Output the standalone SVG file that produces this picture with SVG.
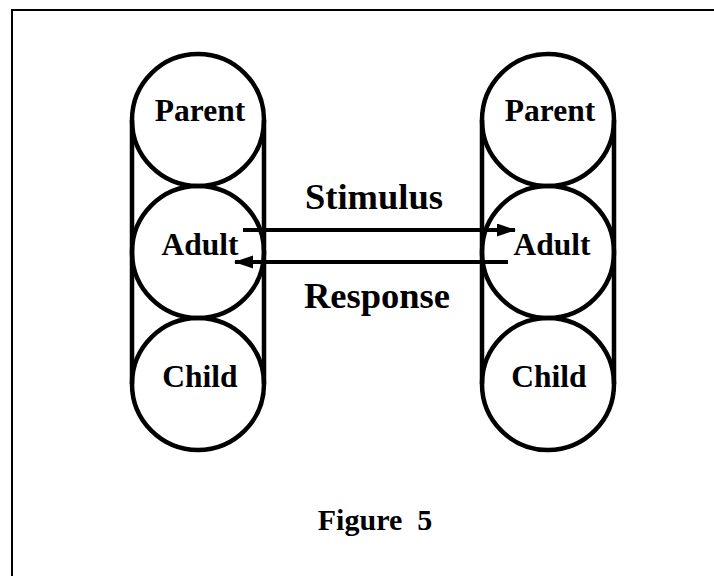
<svg xmlns="http://www.w3.org/2000/svg" width="714" height="576" viewBox="0 0 714 576">
<style>
.c{fill:none;stroke:#000;stroke-width:4.5}
.v{stroke:#000;stroke-width:4.5}
.lbl{font-family:"Liberation Serif","Times New Roman",serif;font-weight:bold;font-size:31.5px;text-anchor:middle;fill:#000}
.fig{font-family:"Liberation Serif","Times New Roman",serif;font-weight:bold;font-size:30px;text-anchor:middle;fill:#000}
.big{font-family:"Liberation Serif","Times New Roman",serif;font-weight:bold;font-size:36.5px;text-anchor:middle;fill:#000}
.a{stroke:#000;stroke-width:4;fill:none}
</style>
<defs>
<marker id="ah" markerWidth="20" markerHeight="14" refX="18" refY="6.5" orient="auto" markerUnits="userSpaceOnUse">
<path d="M0,0 L19,6.5 L0,13 Z" fill="#000"/>
</marker>
</defs>
<rect width="714" height="576" fill="#fff"/>
<path d="M12,576 V10 H714" fill="none" stroke="#000" stroke-width="2"/>
<g id="left-column">
<line class="v" x1="132" y1="120" x2="132" y2="384"/>
<line class="v" x1="264" y1="120" x2="264" y2="384"/>
<g id="left-parent"><circle class="c" cx="198" cy="120" r="66"/><text class="lbl" x="200" y="121">Parent</text></g>
<g id="left-adult"><circle class="c" cx="198" cy="252" r="66"/><text class="lbl" x="200" y="255">Adult</text></g>
<g id="left-child"><circle class="c" cx="198" cy="384" r="66"/><text class="lbl" x="200" y="387">Child</text></g>
</g>
<g id="right-column">
<line class="v" x1="482" y1="120" x2="482" y2="384"/>
<line class="v" x1="614" y1="120" x2="614" y2="384"/>
<g id="right-parent"><circle class="c" cx="548" cy="120" r="66"/><text class="lbl" x="550" y="121">Parent</text></g>
<g id="right-adult"><circle class="c" cx="548" cy="252" r="66"/><text class="lbl" x="552" y="255">Adult</text></g>
<g id="right-child"><circle class="c" cx="548" cy="384" r="66"/><text class="lbl" x="549" y="387">Child</text></g>
</g>
<g id="connectors">
<line class="a" x1="243" y1="230" x2="515" y2="230" marker-end="url(#ah)"/>
<line class="a" x1="508" y1="262" x2="235" y2="262" marker-end="url(#ah)"/>
</g>
<text class="big" x="374" y="209">Stimulus</text>
<text class="big" x="377" y="308">Response</text>
<text class="fig" x="375" y="530" xml:space="preserve">Figure  5</text>
</svg>
